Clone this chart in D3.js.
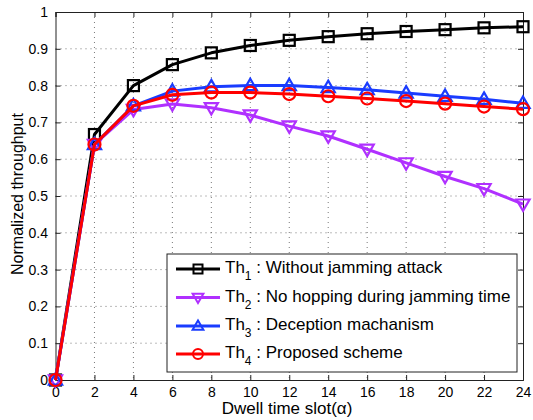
<!DOCTYPE html>
<html><head><meta charset="utf-8">
<script src="https://cdn.jsdelivr.net/npm/d3@7"></script>
<style>body{margin:0;background:#fff;} svg{display:block;} text{font-family:"Liberation Sans",Arial,sans-serif;}</style>
</head><body>
<svg id="c" width="533" height="420"></svg>
<script>
const alphaSlots = [0,2,4,6,8,10,12,14,16,18,20,22,24];
const th1 = [0,0.667,0.800,0.857,0.889,0.909,0.923,0.933,0.941,0.947,0.952,0.957,0.960];
const th2 = [0,0.640,0.735,0.750,0.740,0.720,0.690,0.663,0.627,0.590,0.553,0.520,0.478];
const th3 = [0,0.640,0.745,0.785,0.797,0.800,0.800,0.795,0.789,0.780,0.771,0.763,0.752];
const th4 = [0,0.640,0.745,0.775,0.781,0.781,0.777,0.771,0.765,0.758,0.751,0.743,0.736];
const xTicks = [0,2,4,6,8,10,12,14,16,18,20,22,24];
const yTicks = [0,0.1,0.2,0.3,0.4,0.5,0.6,0.7,0.8,0.9,1];
const seriesNames = ["Without jamming attack","No hopping during jamming time","Deception machanism","Proposed scheme"];
const seriesColors = ["#000000","#b030ff","#1a3cff","#ff0000"];
const seriesMarkers = ["square","tridown","triup","circle"];
const seriesData = [th1,th2,th3,th4];

const svg = d3.select("#c");
const L=55.5, R=523, T=12, B=380;
const x = d3.scaleLinear().domain([0,24]).range([L,R]);
const y = d3.scaleLinear().domain([0,1]).range([B,T]);

// grid
const g = svg.append("g");
g.selectAll(".gx").data(xTicks.slice(1,-1)).enter().append("line")
 .attr("x1",d=>x(d)).attr("x2",d=>x(d)).attr("y1",T).attr("y2",B)
 .attr("stroke","#555").attr("stroke-width",0.8).attr("stroke-dasharray","1,4");
g.selectAll(".gy").data(yTicks.slice(1,-1)).enter().append("line")
 .attr("y1",d=>y(d)).attr("y2",d=>y(d)).attr("x1",L).attr("x2",R)
 .attr("stroke","#555").attr("stroke-width",0.8).attr("stroke-dasharray","1,4");

// axes
const fmtY = d=> d===0?"0":(d===1?"1":d3.format(".1f")(d));
const ax = svg.append("g").attr("transform",`translate(0,${B})`)
 .call(d3.axisBottom(x).tickValues(xTicks).tickSize(-5).tickPadding(7));
const ay = svg.append("g").attr("transform",`translate(${L},0)`)
 .call(d3.axisLeft(y).tickValues(yTicks).tickFormat(fmtY).tickSize(-5).tickPadding(7.5));
const axT = svg.append("g").attr("transform",`translate(0,${T})`)
 .call(d3.axisTop(x).tickValues(xTicks).tickSize(-5).tickFormat(""));
const ayR = svg.append("g").attr("transform",`translate(${R},0)`)
 .call(d3.axisRight(y).tickValues(yTicks).tickSize(-5).tickFormat(""));
[ax,ay,axT,ayR].forEach(a=>{
  a.selectAll("path").attr("stroke","#222").attr("stroke-width",1);
  a.selectAll("line").attr("stroke","#222");
  a.selectAll("text").attr("fill","#000").style("font-size","14px").style("font-family","Liberation Sans, Arial, sans-serif");
});

// lines & markers
function marker(sel, type, color, s, sw){
  if(type==="square") sel.append("rect").attr("x",-s/2).attr("y",-s/2).attr("width",s).attr("height",s);
  else if(type==="circle") sel.append("circle").attr("r",s/2+0.5);
  else if(type==="triup") sel.append("path").attr("d",`M0,${-s*0.62}L${s*0.6},${s*0.42}L${-s*0.6},${s*0.42}Z`);
  else if(type==="tridown") sel.append("path").attr("d",`M0,${s*0.62}L${s*0.6},${-s*0.42}L${-s*0.6},${-s*0.42}Z`);
  sel.selectAll("*").attr("fill","none").attr("stroke",color).attr("stroke-width",sw);
}
const line = d3.line().x((d,i)=>x(alphaSlots[i])).y(d=>y(d));
seriesData.forEach((data,k)=>{
  svg.append("path").datum(data).attr("d",line).attr("fill","none")
    .attr("stroke",seriesColors[k]).attr("stroke-width",3).attr("stroke-linejoin","round");
  svg.selectAll(null).data(data).enter().append("g")
    .attr("transform",(d,i)=>`translate(${x(alphaSlots[i])},${y(d)})`)
    .each(function(){ marker(d3.select(this), seriesMarkers[k], seriesColors[k], 11, 2.2); });
});

// labels
svg.append("text").attr("x",287).attr("y",414).attr("text-anchor","middle")
  .style("font-size","17px").text("Dwell time slot(α)");
svg.append("text").attr("transform","translate(23,194) rotate(-90)").attr("text-anchor","middle")
  .style("font-size","16px").text("Normalized throughput");

// legend
const lg = svg.append("g");
lg.append("rect").attr("x",167).attr("y",254).attr("width",350).attr("height",118)
  .attr("fill","#fff").attr("stroke","#222").attr("stroke-width",1);
const rowY = [269,297.5,326,354];
seriesNames.forEach((name,k)=>{
  const gy = rowY[k];
  lg.append("line").attr("x1",176).attr("x2",220).attr("y1",gy).attr("y2",gy)
    .attr("stroke",seriesColors[k]).attr("stroke-width",3);
  const mg = lg.append("g").attr("transform",`translate(198,${gy})`);
  marker(mg, seriesMarkers[k], seriesColors[k], 9, 2);
  const t = lg.append("text").attr("x",225).attr("y",gy+4).style("font-size","17px");
  t.append("tspan").text("Th");
  t.append("tspan").attr("dy",7).style("font-size","12px").text(String(k+1));
  t.append("tspan").attr("dy",-7).text(" : "+name);
});
</script>
</body></html>
